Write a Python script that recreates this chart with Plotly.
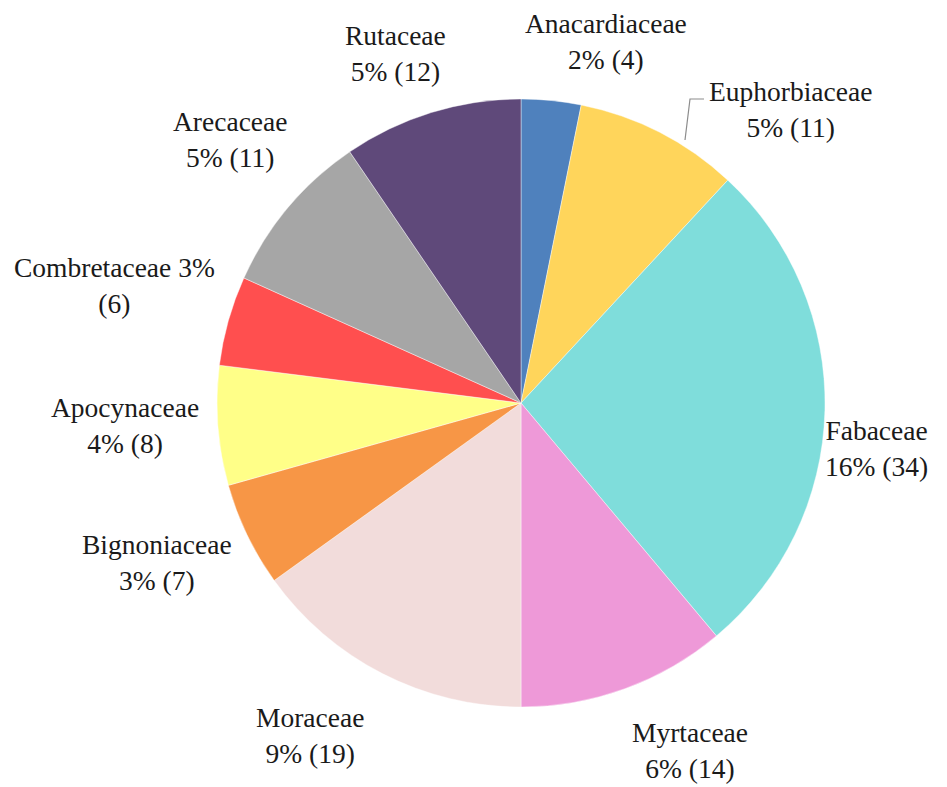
import plotly.graph_objects as go

families = ["Anacardiaceae", "Euphorbiaceae", "Fabaceae", "Myrtaceae", "Moraceae",
            "Bignoniaceae", "Apocynaceae", "Combretaceae", "Arecaceae", "Rutaceae"]
counts = [4, 11, 34, 14, 19, 7, 8, 6, 11, 12]
percents = [2, 5, 16, 6, 9, 3, 4, 3, 5, 5]
colors = ["#4F81BD", "#FFD55B", "#7FDDDB", "#EE99D8", "#F2DCDB",
          "#F79646", "#FFFF88", "#FF4F4F", "#A6A6A6", "#5F497A"]

W, H = 947, 787
cx, cy, r = 521, 403, 304

fig = go.Figure(go.Pie(
    labels=families, values=counts, sort=False, direction="clockwise", rotation=0,
    marker=dict(colors=colors, line=dict(color="rgba(255,255,255,0.6)", width=0.7)),
    textinfo="none", hoverinfo="label+value", showlegend=False,
    domain=dict(x=[(cx - r) / W, (cx + r) / W], y=[1 - (cy + r) / H, 1 - (cy - r) / H]),
))

# label centre positions in pixels (layout only)
label_pos = [(606, 42), (790, 109), (876, 448), (690, 750), (310, 735),
             (157, 562), (125, 425), (114, 285), (230, 140), (395, 54)]

for i, name in enumerate(families):
    if name == "Combretaceae":
        txt = f"{name} {percents[i]}%<br>({counts[i]})"
    else:
        txt = f"{name}<br>{percents[i]}% ({counts[i]})"
    px, py = label_pos[i]
    fig.add_annotation(x=px / W, y=1 - py / H, xref="paper", yref="paper",
                       text=txt, showarrow=False, xanchor="center", yanchor="middle",
                       align="center",
                       font=dict(family="Times New Roman, Liberation Serif, serif",
                                 size=27.5, color="#1a1a1a"))

# leader line for Euphorbiaceae
fig.add_shape(type="path", xref="paper", yref="paper",
              path=f"M {704/W} {1-99/H} L {690/W} {1-99/H} L {685/W} {1-140/H}",
              line=dict(color="#8c8c8c", width=1.2))

fig.update_layout(width=W, height=H, margin=dict(l=0, r=0, t=0, b=0),
                  paper_bgcolor="white", plot_bgcolor="white")

fig.write_html("out.html")
